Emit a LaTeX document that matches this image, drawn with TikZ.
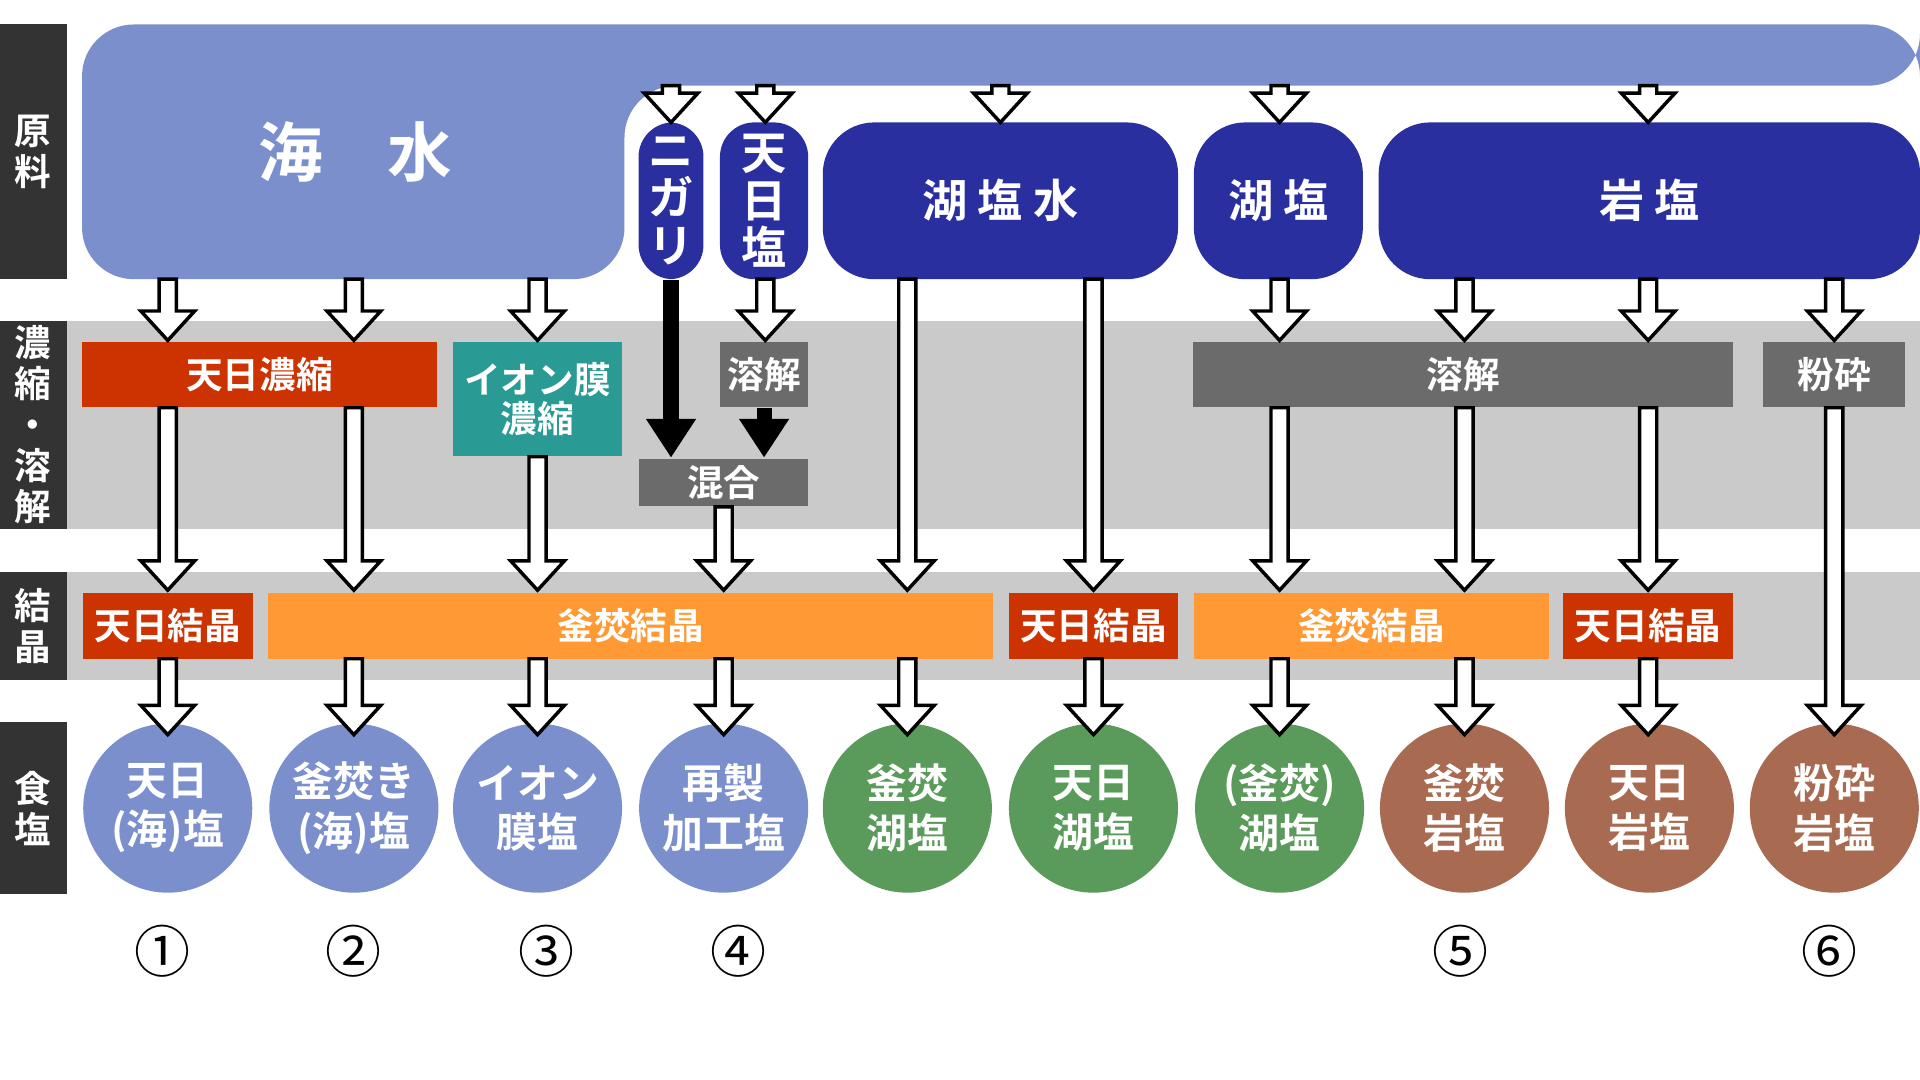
\documentclass[tikz,border=0pt]{standalone}
\usepackage{fontspec}
\usetikzlibrary{arrows.meta}
\newfontfamily\jp{Noto Sans CJK JP}[BoldFont={Noto Sans CJK JP Bold}]
\definecolor{seablue}{HTML}{7B8FCC}
\definecolor{deepblue}{HTML}{2A2FA0}
\definecolor{sunred}{HTML}{CC3300}
\definecolor{ionteal}{HTML}{2A9A94}
\definecolor{procgrey}{HTML}{6B6B6B}
\definecolor{bandgrey}{HTML}{CACACA}
\definecolor{kamaorange}{HTML}{FF9933}
\definecolor{lakegreen}{HTML}{5A9A5A}
\definecolor{rockbrown}{HTML}{A86A50}
\definecolor{rowdark}{HTML}{333333}
\newcommand{\harrow}[3]{%
  \draw[thick,fill=white] (#1-7,#2) -- (#1-7,#3-24) -- (#1-22,#3-24) -- (#1,#3)
    -- (#1+22,#3-24) -- (#1+7,#3-24) -- (#1+7,#2) -- cycle;}
\begin{document}
\begin{tikzpicture}[x=0.01cm,y=-0.01cm,font=\jp\bfseries,
    box/.style={text=white,inner sep=0pt,font=\jp\bfseries\fontsize{8.5}{9}\selectfont},
    src/.style={text=white,fill=deepblue,rounded corners=12pt,inner sep=0pt,font=\jp\bfseries\fontsize{10.5}{11}\selectfont},
    salt/.style={circle,inner sep=0pt,text=white,align=center,
      minimum size=1.38cm,font=\jp\bfseries\fontsize{9.5}{11.5}\selectfont},
    rowlab/.style={fill=rowdark,text=white,inner sep=0pt,align=center,font=\jp\bfseries\fontsize{8.5}{9.5}\selectfont}]
\useasboundingbox (0,0) rectangle (1568,882);
% bands
\fill[bandgrey] (55,262) rectangle (1568,432);
\fill[bandgrey] (55,467) rectangle (1568,555);
% row labels
\node[rowlab,minimum width=0.55cm,minimum height=2.08cm] (lraw) at (27,124) {原\\料};
\node[rowlab,minimum width=0.55cm,minimum height=1.70cm] (lcon) at (27,347) {濃\\縮\\・\\溶\\解};
\node[rowlab,minimum width=0.55cm,minimum height=0.88cm] (lcry) at (27,511) {結\\晶};
\node[rowlab,minimum width=0.55cm,minimum height=1.40cm] (lsal) at (27,660) {食\\塩};
% sea water
\fill[seablue,rounded corners=12pt] (67,20) -- (1568,20) -- (1568,70) -- (510,70) -- (510,228) -- (67,228) -- cycle;
\node[text=white,font=\jp\bfseries\fontsize{15}{16}\selectfont] (sea) at (290,124) {海\quad 水};
% sources
\node[src,minimum width=0.53cm,minimum height=1.28cm,align=center,rounded corners=8pt] (nigari) at (548,164) {ニ\\ガ\\リ};
\node[src,minimum width=0.72cm,minimum height=1.28cm,align=center,rounded corners=8pt] (tenjitsu) at (624,164) {天\\日\\塩};
\node[src,minimum width=2.90cm,minimum height=1.28cm] (lakewater) at (817,164) {湖 塩 水};
\node[src,minimum width=1.38cm,minimum height=1.28cm] (lakesalt) at (1044,164) {湖 塩};
\node[src,minimum width=4.42cm,minimum height=1.28cm] (rocksalt) at (1347,164) {岩 塩};
% concentration / dissolving
\node[box,fill=sunred,minimum width=2.90cm,minimum height=0.53cm] (sunconc) at (212,306) {天日濃縮};
\node[box,fill=ionteal,minimum width=1.38cm,minimum height=0.93cm,align=center] (ionconc) at (439,326) {イオン膜\\濃縮};
\node[box,fill=procgrey,minimum width=0.72cm,minimum height=0.53cm] (dissolveA) at (624,306) {溶解};
\node[box,fill=procgrey,minimum width=1.38cm,minimum height=0.39cm] (mix) at (591,394) {混合};
\node[box,fill=procgrey,minimum width=4.41cm,minimum height=0.53cm] (dissolveB) at (1195,306) {溶解};
\node[box,fill=procgrey,minimum width=1.16cm,minimum height=0.53cm] (crush) at (1498,306) {粉砕};
% crystallization
\node[box,fill=sunred,minimum width=1.39cm,minimum height=0.54cm] (suncryA) at (137,511) {天日結晶};
\node[box,fill=kamaorange,minimum width=5.92cm,minimum height=0.54cm] (kamacryA) at (515,511) {釜焚結晶};
\node[box,fill=sunred,minimum width=1.38cm,minimum height=0.54cm] (suncryB) at (893,511) {天日結晶};
\node[box,fill=kamaorange,minimum width=2.90cm,minimum height=0.54cm] (kamacryB) at (1120,511) {釜焚結晶};
\node[box,fill=sunred,minimum width=1.39cm,minimum height=0.54cm] (suncryC) at (1346,511) {天日結晶};
% salts
\node[salt,fill=seablue] (s1) at (137,660) {天日\\(海)塩};
\node[salt,fill=seablue] (s2) at (289,660) {釜焚き\\(海)塩};
\node[salt,fill=seablue] (s3) at (439,660) {イオン\\膜塩};
\node[salt,fill=seablue] (s4) at (591,660) {再製\\加工塩};
\node[salt,fill=lakegreen] (s5) at (741,660) {釜焚\\湖塩};
\node[salt,fill=lakegreen] (s6) at (893,660) {天日\\湖塩};
\node[salt,fill=lakegreen] (s7) at (1045,660) {(釜焚)\\湖塩};
\node[salt,fill=rockbrown] (s8) at (1196,660) {釜焚\\岩塩};
\node[salt,fill=rockbrown] (s9) at (1347,660) {天日\\岩塩};
\node[salt,fill=rockbrown] (s10) at (1498,660) {粉砕\\岩塩};
% hollow arrows
\foreach \x in {548,625,817,1045,1346} {\harrow{\x}{70}{100}}
\foreach \x in {137,289,439,625,1045,1196,1346,1498} {\harrow{\x}{228}{278}}
\foreach \x in {741,893} {\harrow{\x}{228}{482}}
\foreach \x in {137,289,1045,1196,1346} {\harrow{\x}{333}{482}}
\harrow{439}{373}{482}
\harrow{591}{414}{482}
\harrow{1498}{333}{600}
\foreach \x in {137,289,439,591,741,893,1045,1196,1346} {\harrow{\x}{538}{600}}
% black arrows
\draw[line width=3.5pt,-{Triangle[length=9pt,width=11pt]}] (nigari.south) -- (nigari.south |- mix.north);
\draw[line width=3.5pt,-{Triangle[length=9pt,width=11pt]}] (dissolveA.south) -- (dissolveA.south |- mix.north);
% numbers
\foreach \x/\n [count=\i] in {133/①,289/②,446/③,603/④,1193/⑤,1494/⑥}
  \node[font=\jp\fontsize{13}{14}\selectfont] (num\i) at (\x,777) {\n};
\end{tikzpicture}
\end{document}
